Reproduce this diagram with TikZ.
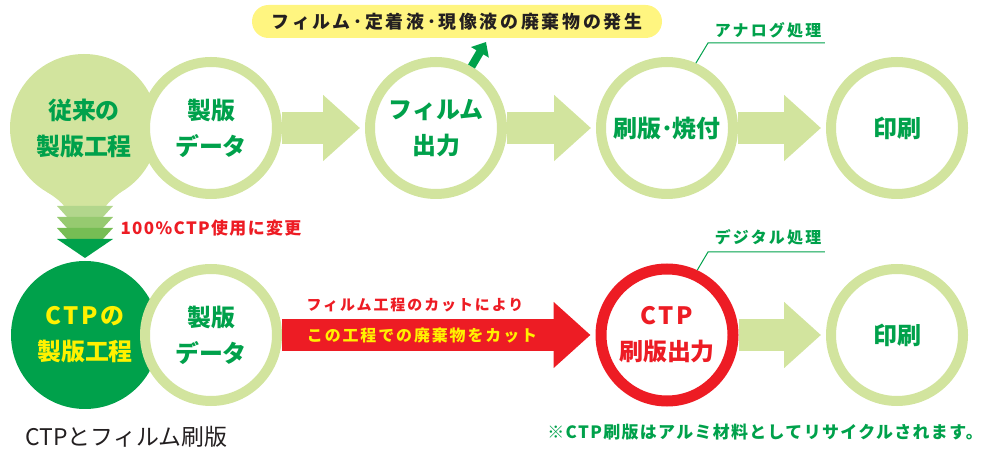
\documentclass[tikz,border=0pt]{standalone}
\usepackage{fontspec}
\setmainfont{Noto Sans CJK JP}
\usetikzlibrary{arrows.meta}
\usetikzlibrary{positioning}
\definecolor{leaf}{RGB}{210,228,158}
\definecolor{ctpgreen}{RGB}{0,161,75}
\definecolor{ctpred}{RGB}{237,28,36}
\definecolor{ctpyellow}{RGB}{255,241,0}
\definecolor{notebox}{RGB}{255,245,128}
\definecolor{ink}{RGB}{35,31,32}
\definecolor{chevA}{RGB}{178,214,140}
\definecolor{chevB}{RGB}{150,202,112}
\definecolor{chevC}{RGB}{118,189,84}
\tikzset{
  ring/.style={circle, draw=leaf, line width=10bp, fill=white, minimum size=132bp, inner sep=0pt,
    align=center, text=ctpgreen, font=\fontsize{24}{36}\selectfont\bfseries},
  blob/.style={circle, minimum size=148bp, inner sep=0pt, align=center,
    font=\fontsize{24}{36}\selectfont\bfseries},
  flow/.style={line width=32bp, -{Triangle[length=37bp,width=64bp]}, shorten >=5bp},
  tag/.style={font=\fontsize{16}{16}\selectfont\bfseries\addfontfeatures{LetterSpace=14}, text=ctpgreen},
  lead/.style={draw=ctpgreen, line width=1bp},
}
\begin{document}
\begin{tikzpicture}[line join=miter]
\useasboundingbox (0bp,0bp) rectangle (984bp,455bp);
%% conventional process
  \fill[leaf] (47bp,263bp) .. controls (58bp,256bp) and (62bp,252bp) .. (64bp,249bp)
    -- (106bp,249bp) .. controls (108bp,252bp) and (112bp,256bp) .. (121bp,263bp) -- cycle;
  \node (old) at (84bp,327bp) [blob, fill=leaf, text=ctpgreen] {従来の\\製版工程};
  \foreach \top/\col in {249/chevA,238/chevB,227/chevC}
    \fill[\col] (57bp,\top bp) -- (113bp,\top bp) -- ([yshift=-11bp]103bp,\top bp) -- ([yshift=-11bp]67bp,\top bp) -- cycle;
  \fill[ctpgreen] (57bp,216bp) -- (113bp,216bp) -- (85bp,197bp) -- cycle;
  \node (data1) at (211bp,327bp) [ring] {製版\\データ};
  \node (film) at (436bp,327bp) [ring] {フィルム\\出力};
  \node (plate1) at (667bp,327bp) [ring] {刷版･焼付};
  \node (print1) at (897bp,327bp) [ring] {印刷};
  \draw [flow, leaf] (data1) -- (film);
  \draw [flow, leaf] (film) -- (plate1);
  \draw [flow, leaf] (plate1) -- (print1);
  \node (waste) at (457bp,433.5bp) [rounded corners=16.5bp, fill=notebox, minimum width=410bp, minimum height=33bp,
    text=ink, font=\fontsize{18}{18}\selectfont\bfseries\addfontfeatures{LetterSpace=15}] {フィルム･定着液･現像液の廃棄物の発生};
  \coordinate (wasteTip) at (486bp,413bp);
  \draw [ctpgreen, line width=8bp, -{Triangle[length=12bp,width=20bp]}] (film.60) -- (wasteTip);
  \node (analog) at (768bp,425bp) [tag] {アナログ処理};
  \coordinate (analogL) at (708bp,412bp);
  \draw [lead] (plate1.66) -- (analogL) -- (analogL -| analog.east);
%% change
  \node (change) at (117bp,227bp) [anchor=west, text=ctpred, font=\fontsize{17}{17}\selectfont\bfseries\addfontfeatures{LetterSpace=8}] {100\%CTP使用に変更};
%% CTP process
  \node (ctp) at (85bp,120bp) [blob, fill=ctpgreen, text=ctpyellow] {\addfontfeatures{LetterSpace=10}CTPの\\製版工程};
  \node (data2) at (211bp,120bp) [ring] {製版\\データ};
  \node (plate2) at (667bp,120bp) [ring, draw=ctpred, line width=11bp, text=ctpred] {\addfontfeatures{LetterSpace=10}CTP\\刷版出力};
  \node (print2) at (897bp,120bp) [ring] {印刷};
  \draw [flow, ctpred] (data2) -- (plate2);
  \draw [flow, leaf] (plate2) -- (print2);
  \node (cutnote) at (415bp,150bp) [text=ctpred, font=\fontsize{15}{15}\selectfont\bfseries\addfontfeatures{LetterSpace=13}] {フィルム工程のカットにより};
  \node (cut) at (422bp,119bp) [text=ctpyellow, font=\fontsize{16}{16}\selectfont\bfseries\addfontfeatures{LetterSpace=12}] {この工程での廃棄物をカット};
  \node (digital) at (768bp,218bp) [tag] {デジタル処理};
  \coordinate (digitalL) at (708bp,203bp);
  \draw [lead] (plate2.65) -- (digitalL) -- (digitalL -| digital.east);
%% notes
  \node (title) at (22bp,18bp) [anchor=west, text=ink, font=\fontsize{23}{23}\selectfont] {CTPとフィルム刷版};
  \node (recycle) at (983bp,23bp) [anchor=east, inner xsep=0pt, text=ctpgreen, font=\fontsize{17}{17}\selectfont\bfseries\addfontfeatures{LetterSpace=8}] {※CTP刷版はアルミ材料としてリサイクルされます。};
%
\end{tikzpicture}
\end{document}
